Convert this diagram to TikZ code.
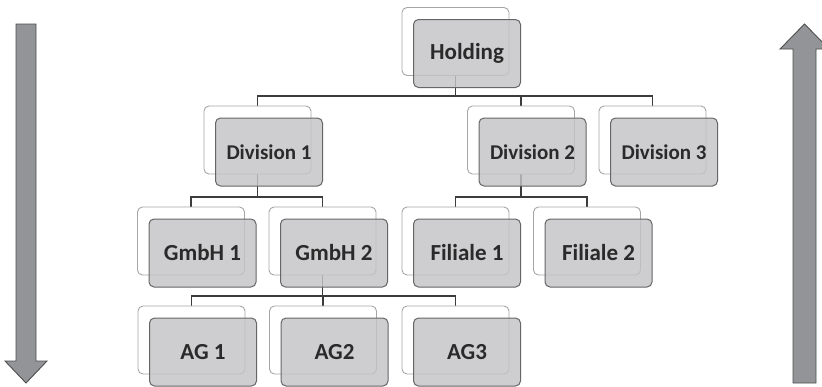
\documentclass[tikz,border=0pt]{standalone}
\usepackage{fontspec}
\setmainfont{Carlito}
\definecolor{backline}{HTML}{A6A6A6}
\definecolor{frontfill}{HTML}{C4C4C6}
\definecolor{frontline}{HTML}{666666}
\definecolor{conline}{HTML}{3C3C3C}
\definecolor{txt}{HTML}{2A2A2A}
\definecolor{arrfill}{HTML}{939498}
\definecolor{arrline}{HTML}{4E4E4E}
\tikzset{
  backbox/.style={draw=backline, fill=white, line width=0.9pt, rounded corners=5pt,
    minimum width=107pt, minimum height=68pt, inner sep=0pt},
  frontbox/.style={draw=frontline, fill=frontfill, fill opacity=0.82, text opacity=1,
    line width=1pt, rounded corners=5pt, minimum width=107pt, minimum height=68pt,
    inner sep=0pt, text=txt, font=\bfseries\fontsize{23}{25}\selectfont},
  divtext/.style={font=\bfseries\fontsize{21}{23}\selectfont},
  conn/.style={draw=conline, line width=1.3pt},
  bigarrow/.style={fill=arrfill, draw=arrline, line width=0.9pt, line join=miter}
}
\newcommand{\orgunit}[5][]{%
  \node[backbox] (#2b) at (#3pt,-#4pt) {};
  \node[frontbox,#1] (#2) at ([shift={(11.5pt,-12pt)}]#2b.center) {#5};
}
\begin{document}
\begin{tikzpicture}
\useasboundingbox (0,0) rectangle (822pt,-386pt);
\fill[white] (0,0) rectangle (822pt,-386pt);
% bus coordinates
\coordinate (bus1) at (455.5pt,-96pt);
\coordinate (bus2) at (257.5pt,-197pt);
\coordinate (bus3) at (521pt,-197pt);
\coordinate (bus4) at (322.5pt,-296pt);
% placeholder back nodes for connector anchors
\begin{scope}
\node[backbox,draw=none,fill=none] (holdb) at (455.5pt,-41.5pt) {};
\node[backbox,draw=none,fill=none] (div1b) at (257.5pt,-140pt) {};
\node[backbox,draw=none,fill=none] (div2b) at (521pt,-140pt) {};
\node[backbox,draw=none,fill=none] (div3b) at (652.5pt,-140pt) {};
\node[backbox,draw=none,fill=none] (gmbh1b) at (191pt,-241pt) {};
\node[backbox,draw=none,fill=none] (gmbh2b) at (322.5pt,-241pt) {};
\node[backbox,draw=none,fill=none] (fil1b) at (455.5pt,-241pt) {};
\node[backbox,draw=none,fill=none] (fil2b) at (587pt,-241pt) {};
\node[backbox,draw=none,fill=none] (ag1b) at (191.5pt,-340pt) {};
\node[backbox,draw=none,fill=none] (ag2b) at (323pt,-340pt) {};
\node[backbox,draw=none,fill=none] (ag3b) at (455.5pt,-340pt) {};
\end{scope}
% connectors
\draw[conn] (holdb.center) -- (bus1);
\draw[conn] (div1b.north) |- (bus1) -| (div3b.north);
\draw[conn] (div2b.north) -- (div2b.north |- bus1);
\draw[conn] (div1b.center) -- (bus2);
\draw[conn] (gmbh1b.north) |- (bus2) -| (gmbh2b.north);
\draw[conn] (div2b.center) -- (bus3);
\draw[conn] (fil1b.north) |- (bus3) -| (fil2b.north);
\draw[conn] (gmbh2b.center) -- (bus4);
\draw[conn] (ag1b.north) |- (bus4) -| (ag3b.north);
\draw[conn] (ag2b.north) -- (ag2b.north |- bus4);
% boxes
\orgunit{hold}{455.5}{41.5}{Holding}
\orgunit[divtext]{div1}{257.5}{140}{Division 1}
\orgunit[divtext]{div2}{521}{140}{Division 2}
\orgunit[divtext]{div3}{652.5}{140}{Division 3}
\orgunit{gmbh1}{191}{241}{GmbH 1}
\orgunit{gmbh2}{322.5}{241}{GmbH 2}
\orgunit{fil1}{455.5}{241}{Filiale 1}
\orgunit{fil2}{587}{241}{Filiale 2}
\orgunit{ag1}{191.5}{340}{AG 1}
\orgunit{ag2}{323}{340}{AG2}
\orgunit{ag3}{455.5}{340}{AG3}
% side arrows
\draw[bigarrow] (16pt,-24pt) -- (36pt,-24pt) -- (36pt,-361pt) -- (47pt,-361pt)
  -- (26pt,-383pt) -- (5pt,-361pt) -- (16pt,-361pt) -- cycle;
\draw[bigarrow] (793pt,-383pt) -- (816pt,-383pt) -- (816pt,-49pt) -- (829pt,-49pt)
  -- (804.5pt,-24pt) -- (780pt,-49pt) -- (793pt,-49pt) -- cycle;
\end{tikzpicture}
\end{document}
